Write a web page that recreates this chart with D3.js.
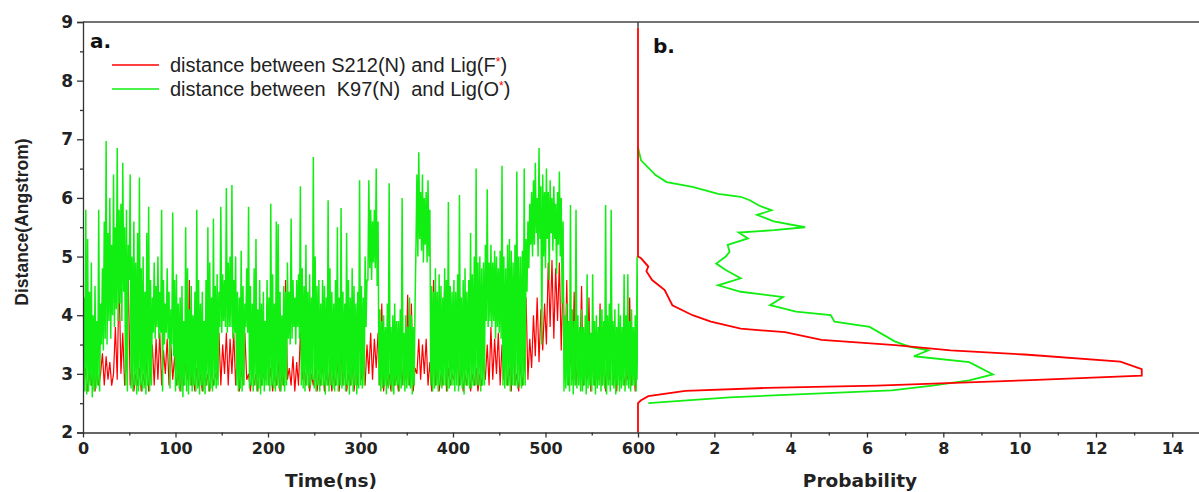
<!DOCTYPE html>
<html>
<head>
<meta charset="utf-8">
<style>
  body { margin: 0; background: #fff; }
  text { font-family: "DejaVu Sans", sans-serif; }
  .tick text { font-family: "DejaVu Sans", sans-serif; font-weight: bold; font-size: 16px; fill: #222; }
  .tick line, .domain { stroke: #333; stroke-width: 1.3; }
</style>
</head>
<body>
<script src="https://d3js.org/d3.v7.min.js"></script>
<script>
  // Panel a: distance over time, panel b: probability of each distance
  const width = 1199;
  const height = 492;

  const greenStep = 1;   // ns
  const redStart = 1;
  const redStep = 2;     // ns

  // K97(N) - Lig(O*) distance, t = 0, 1, ... 600 ns (one row = 20 ns)
  const greenDist = [
    2.8, 4.3, 2.7, 5.8, 2.65, 5.3, 2.7, 4.4, 2.8, 4.9, 2.6, 4.0, 2.7, 4.5, 2.75, 3.9, 2.8, 5.8, 2.7, 4.2,
    3.5, 4.8, 3.4, 5.6, 3.6, 6.97, 3.5, 5.4, 3.9, 6.0, 3.6, 5.2, 4.0, 6.4, 3.8, 5.5, 4.1, 6.85, 3.9, 5.8,
    4.2, 5.9, 3.9, 6.6, 4.4, 5.5, 2.8, 5.8, 2.7, 5.2, 4.6, 6.4, 2.75, 5.0, 2.7, 5.6, 2.8, 4.9, 2.65, 5.4,
    2.7, 6.35, 2.8, 4.8, 2.7, 5.0, 2.75, 4.4, 2.65, 5.4, 2.8, 5.85, 2.7, 4.6, 2.8, 4.3, 3.7, 4.9, 3.6, 4.5,
    3.8, 5.0, 3.6, 4.4, 3.7, 5.8, 2.7, 4.6, 3.5, 4.2, 3.7, 4.8, 3.6, 4.4, 2.75, 4.1, 3.5, 5.75, 3.3, 4.6,
    2.7, 4.7, 2.8, 4.2, 2.75, 4.3, 2.7, 4.5, 2.6, 3.9, 2.8, 5.5, 2.7, 4.8, 2.65, 4.1, 2.8, 4.5, 2.7, 4.0,
    2.8, 4.4, 2.7, 5.8, 2.75, 4.6, 2.65, 4.2, 2.8, 4.4, 2.7, 3.9, 2.65, 4.6, 2.8, 5.5, 2.7, 4.9, 2.75, 4.3,
    2.7, 5.65, 2.8, 4.5, 2.75, 4.7, 2.8, 4.4, 3.8, 5.85, 3.7, 4.7, 3.9, 4.6, 3.8, 6.17, 3.7, 4.9, 3.8, 5.0,
    3.8, 6.22, 3.6, 4.6, 3.7, 5.0, 2.8, 4.4, 2.7, 4.3, 2.75, 5.1, 2.7, 4.5, 2.8, 4.2, 3.8, 4.8, 3.7, 5.85,
    2.75, 4.5, 2.8, 4.2, 2.7, 4.8, 2.8, 5.3, 2.7, 4.1, 2.75, 4.6, 2.65, 4.2, 2.8, 4.4, 2.7, 3.9, 2.8, 4.6,
    2.8, 4.3, 2.7, 5.9, 2.8, 4.7, 2.75, 4.2, 2.7, 5.6, 2.8, 5.55, 2.75, 4.4, 2.7, 4.0, 2.8, 4.5, 2.7, 4.4,
    2.8, 4.9, 3.6, 4.4, 3.5, 5.65, 3.6, 4.6, 3.8, 4.3, 3.5, 4.6, 3.8, 4.7, 3.6, 6.2, 2.8, 4.8, 2.75, 4.5,
    2.7, 5.2, 2.8, 4.4, 2.75, 4.7, 2.8, 4.3, 2.9, 6.7, 2.75, 5.0, 2.7, 4.5, 2.8, 4.6, 2.7, 4.2, 2.8, 4.6,
    2.8, 4.5, 2.65, 4.3, 2.8, 5.96, 2.7, 4.8, 2.8, 4.4, 2.75, 4.2, 2.7, 4.6, 2.8, 5.5, 2.7, 4.3, 2.8, 5.83,
    2.75, 4.4, 2.8, 4.2, 2.7, 5.4, 2.8, 4.6, 2.65, 4.3, 2.8, 4.8, 2.7, 4.5, 2.8, 4.2, 2.65, 4.4, 2.75, 6.3,
    2.8, 4.5, 2.75, 4.3, 2.8, 5.0, 3.8, 4.6, 4.6, 6.3, 4.8, 5.8, 4.6, 5.6, 4.9, 5.8, 4.8, 6.5, 4.5, 5.6,
    2.8, 4.1, 2.7, 3.9, 2.75, 4.0, 2.8, 3.8, 2.65, 4.2, 2.75, 6.25, 2.8, 3.8, 2.7, 4.0, 2.65, 4.2, 2.8, 3.9,
    2.8, 3.9, 2.7, 4.1, 2.75, 6.0, 2.8, 3.7, 2.7, 4.0, 2.75, 3.8, 2.8, 4.3, 2.75, 4.0, 2.65, 3.8, 2.8, 4.2,
    5.2, 6.4, 5.0, 6.78, 5.3, 6.1, 5.1, 6.4, 4.9, 6.0, 5.2, 6.1, 4.9, 6.3, 5.0, 5.8, 2.8, 4.5, 2.7, 4.4,
    2.75, 4.8, 2.8, 4.4, 2.7, 4.7, 2.8, 4.5, 2.75, 4.3, 2.8, 4.8, 2.8, 4.6, 2.7, 5.93, 2.75, 4.5, 2.8, 4.4,
    2.8, 4.6, 2.7, 4.4, 2.8, 4.7, 2.7, 6.05, 2.8, 4.3, 2.75, 4.6, 2.65, 4.8, 2.8, 4.4, 2.8, 4.6, 2.75, 5.4,
    2.75, 4.7, 2.8, 5.0, 2.8, 6.5, 2.8, 4.9, 2.8, 5.0, 2.7, 4.8, 2.8, 4.9, 2.8, 5.2, 3.9, 6.15, 3.8, 4.9,
    3.9, 5.2, 3.8, 4.9, 3.9, 5.1, 3.6, 5.0, 3.8, 4.8, 3.7, 5.1, 3.6, 6.55, 2.8, 5.0, 2.75, 4.8, 2.8, 5.2,
    2.8, 5.3, 2.7, 5.1, 2.8, 4.9, 2.8, 5.2, 2.8, 6.45, 2.75, 5.0, 2.8, 5.0, 2.75, 5.1, 2.8, 6.5, 2.8, 5.3,
    4.4, 5.6, 4.8, 5.9, 5.2, 6.1, 5.0, 6.3, 5.2, 6.6, 5.4, 6.0, 5.0, 6.85, 5.3, 6.2, 3.5, 6.4, 5.0, 6.1,
    4.8, 6.5, 5.3, 6.1, 4.6, 6.3, 5.4, 6.0, 5.1, 6.2, 5.3, 5.9, 4.7, 6.1, 5.2, 6.45, 5.0, 6.0, 4.2, 5.6,
    2.7, 4.0, 2.75, 4.2, 2.8, 3.9, 2.7, 5.88, 2.8, 4.1, 2.65, 3.9, 2.8, 5.8, 2.75, 4.0, 2.8, 3.8, 2.7, 4.1,
    2.7, 3.8, 2.8, 4.0, 2.65, 4.7, 2.75, 3.9, 2.8, 3.7, 2.7, 4.7, 2.8, 3.9, 2.65, 4.0, 2.75, 3.8, 2.8, 4.1,
    2.7, 4.1, 2.8, 3.9, 2.75, 5.88, 2.65, 4.0, 2.8, 4.2, 2.7, 5.8, 2.8, 3.9, 2.75, 4.1, 2.65, 3.8, 2.8, 4.2,
    2.7, 4.0, 2.75, 3.8, 2.8, 4.7, 2.7, 4.0, 2.8, 4.7, 2.75, 3.9, 2.7, 4.1, 2.8, 3.8, 2.8, 4.0, 2.7, 5.0,
    2.9
  ];
  // S212(N) - Lig(F*) distance, t = 1, 3, ... 599 ns (one row = 20 ns)
  const redDist = [
    2.8, 3.1, 2.7, 3.0, 2.8, 3.2, 2.7, 3.1, 2.8, 3.0,
    3.35, 2.8, 3.3, 2.9, 3.2, 2.8, 3.0, 3.8, 2.9, 4.65,
    3.0, 3.7, 2.8, 3.2, 4.6, 2.8, 3.1, 2.7, 3.0, 2.8,
    3.1, 2.7, 3.0, 2.8, 3.2, 2.7, 3.0, 3.5, 2.8, 3.6,
    2.9, 3.7, 2.8, 3.4, 3.0, 3.6, 2.8, 3.5, 2.9, 3.3,
    2.8, 3.0, 2.7, 3.1, 2.8, 3.2, 2.9, 4.6, 2.8, 3.0,
    2.7, 3.1, 2.8, 3.0, 2.7, 3.2, 2.8, 3.0, 2.7, 3.1,
    2.8, 3.0, 2.9, 3.7, 2.8, 3.5, 3.0, 3.7, 2.8, 3.6,
    3.0, 3.7, 2.8, 3.4, 2.7, 3.1, 2.8, 3.7, 2.9, 3.0,
    2.7, 3.1, 2.8, 3.0, 2.7, 3.2, 2.8, 3.0, 2.9, 4.2,
    2.8, 3.1, 2.7, 3.0, 2.8, 3.2, 2.7, 3.0, 2.8, 4.6,
    2.9, 3.1, 2.8, 3.3, 2.7, 3.2, 2.8, 3.7, 2.9, 3.1,
    2.8, 3.4, 2.7, 3.0, 2.8, 3.1, 2.7, 3.0, 2.8, 3.2,
    2.7, 3.0, 2.8, 3.1, 2.7, 3.0, 2.8, 3.2, 2.7, 3.4,
    2.8, 3.1, 2.7, 3.0, 2.8, 3.2, 2.7, 3.1, 2.8, 4.4,
    2.9, 3.2, 2.8, 3.5, 3.0, 3.7, 2.9, 3.6, 3.1, 3.7,
    2.8, 4.2, 2.7, 3.1, 2.8, 3.0, 2.7, 3.2, 2.8, 3.0,
    2.7, 3.1, 2.8, 3.3, 2.9, 4.35, 2.8, 4.2, 2.7, 3.1,
    3.0, 3.6, 2.9, 3.5, 3.0, 3.6, 2.8, 3.2, 2.7, 4.6,
    2.8, 3.1, 2.7, 3.0, 2.8, 4.6, 2.7, 3.1, 2.8, 3.0,
    2.9, 3.2, 3.7, 2.8, 3.1, 2.7, 3.0, 2.8, 3.2, 2.7,
    3.0, 2.8, 3.1, 2.7, 3.0, 2.8, 3.2, 2.9, 3.5, 2.8,
    3.8, 2.9, 3.6, 3.0, 3.7, 2.8, 3.5, 2.9, 3.3, 2.8,
    3.1, 2.7, 3.7, 2.8, 3.0, 2.7, 3.2, 2.8, 3.1, 4.3,
    2.9, 3.6, 3.1, 4.0, 3.3, 4.3, 3.2, 4.1, 3.4, 4.2,
    3.5, 4.9, 3.8, 4.94, 3.6, 4.8, 3.9, 4.9, 3.4, 4.7,
    2.9, 4.6, 2.8, 3.4, 2.9, 4.4, 2.8, 3.2, 3.0, 4.5,
    2.8, 3.1, 2.9, 4.3, 2.7, 3.3, 2.8, 3.5, 2.9, 4.2,
    2.8, 3.2, 2.7, 3.6, 2.9, 4.3, 2.8, 3.1, 2.7, 3.4,
    2.9, 3.3, 2.8, 3.0, 2.9, 4.3, 2.8, 3.2, 2.7, 3.6
  ];

  // panel b: distance (y) vs probability (x)
  const redHistDist = [2.0, 2.5, 2.55, 2.62, 2.71, 2.76, 2.8, 2.89, 2.97, 3.08, 3.21, 3.33, 3.4, 3.49, 3.58, 3.71, 3.77, 3.89, 4.0, 4.17, 4.43, 4.6, 4.75, 4.83, 4.97, 5.0, 8.9];
  const redHistProb = [0, 0, 0.08, 0.27, 1.24, 3.36, 6.26, 10.13, 13.2, 13.2, 12.64, 10.13, 8.19, 6.74, 4.81, 3.85, 2.69, 1.91, 1.43, 0.9, 0.7, 0.37, 0.22, 0.27, 0.08, 0, 0];
  const greenHistDist = [2.5, 2.6, 2.72, 2.8, 2.89, 2.99, 3.2, 3.3, 3.4, 3.46, 3.55, 3.8, 3.89, 4.0, 4.06, 4.17, 4.31, 4.4, 4.51, 4.63, 4.77, 4.88, 5.0, 5.08, 5.2, 5.31, 5.41, 5.45, 5.5, 5.6, 5.71, 5.79, 5.87, 5.96, 6.02, 6.07, 6.19, 6.27, 6.39, 6.64, 6.86];
  const greenHistProb = [0.27, 2.4, 6.65, 7.71, 8.68, 9.3, 8.68, 7.23, 7.61, 7.13, 6.74, 6.07, 5.15, 5.05, 4.14, 3.46, 3.8, 2.69, 2.1, 2.69, 2.3, 2.05, 2.3, 2.4, 2.35, 2.88, 2.64, 3.56, 4.38, 3.56, 3.12, 3.5, 3.17, 2.93, 2.69, 2.1, 1.43, 0.75, 0.46, 0.08, 0];

  const timeTicks = [0, 100, 200, 300, 400, 500, 600];
  const timeMinorTicks = [50, 150, 250, 350, 450, 550];
  const probTicks = [2, 4, 6, 8, 10, 12, 14];
  const probMinorTicks = [1, 3, 5, 7, 9, 11, 13];
  const distTicks = [2, 3, 4, 5, 6, 7, 8, 9];
  const distMinorTicks = [2.5, 3.5, 4.5, 5.5, 6.5, 7.5, 8.5];

  const red = '#ff0000';
  const green = '#11ee11';

  const svg = d3.select('body')
    .append('svg')
    .attr('width', width)
    .attr('height', height);

  const x = d3.scaleLinear().domain([0, 600]).range([83, 638]);
  const xp = d3.scaleLinear().domain([0, 14.7]).range([638, 1199]);
  const y = d3.scaleLinear().domain([2, 9]).range([432.5, 22]);

  svg.append('clipPath').attr('id', 'clipA')
    .append('rect')
    .attr('x', x(0)).attr('y', y(9))
    .attr('width', x(600) - x(0)).attr('height', y(2) - y(9));

  const series = svg.append('g').attr('clip-path', 'url(#clipA)');

  const redLine = d3.line()
    .x((d, i) => x(redStart + i * redStep))
    .y((d) => y(d));
  const greenLine = d3.line()
    .x((d, i) => x(i * greenStep))
    .y((d) => y(d));

  series.append('path')
    .attr('d', redLine(redDist))
    .attr('fill', 'none')
    .attr('stroke', red)
    .attr('stroke-width', 1.2);

  series.append('path')
    .attr('d', greenLine(greenDist))
    .attr('fill', 'none')
    .attr('stroke', green)
    .attr('stroke-width', 1.5);

  // panel b curves
  const histLine = d3.line()
    .x((d) => xp(d[1]))
    .y((d) => y(d[0]));

  svg.append('path')
    .attr('d', histLine(d3.zip(greenHistDist, greenHistProb)))
    .attr('fill', 'none')
    .attr('stroke', green)
    .attr('stroke-width', 1.8);

  svg.append('path')
    .attr('d', histLine(d3.zip(redHistDist, redHistProb)))
    .attr('fill', 'none')
    .attr('stroke', red)
    .attr('stroke-width', 1.8);

  // frame
  svg.append('line')
    .attr('x1', x(0)).attr('x2', width)
    .attr('y1', y(9)).attr('y2', y(9))
    .attr('stroke', '#444').attr('stroke-width', 1.5);
  svg.append('line')
    .attr('x1', x(600)).attr('x2', x(600))
    .attr('y1', y(9)).attr('y2', y(8.9))
    .attr('stroke', '#444').attr('stroke-width', 1.5);

  // axes
  const gy = svg.append('g').attr('transform', `translate(${x(0)},0)`)
    .call(d3.axisLeft(y).tickValues(distTicks).tickSize(6).tickPadding(4).tickFormat(d3.format('d')));
  svg.append('g').attr('transform', `translate(${x(0)},0)`)
    .call(d3.axisLeft(y).tickValues(distMinorTicks).tickSize(3).tickFormat(''))
    .select('.domain').remove();
  gy.selectAll('.tick text').style('font-size', '17px');

  svg.append('g').attr('transform', `translate(0,${y(2)})`)
    .call(d3.axisBottom(x).tickValues(timeTicks).tickSize(5).tickPadding(5).tickSizeOuter(0));
  svg.append('g').attr('transform', `translate(0,${y(2)})`)
    .call(d3.axisBottom(x).tickValues(timeMinorTicks).tickSize(3).tickFormat(''))
    .select('.domain').remove();

  svg.append('g').attr('transform', `translate(0,${y(2)})`)
    .call(d3.axisBottom(xp).tickValues(probTicks).tickSize(5).tickPadding(5).tickSizeOuter(0));
  svg.append('g').attr('transform', `translate(0,${y(2)})`)
    .call(d3.axisBottom(xp).tickValues(probMinorTicks).tickSize(3).tickFormat(''))
    .select('.domain').remove();

  // titles
  svg.append('text')
    .attr('x', 331).attr('y', 487)
    .attr('text-anchor', 'middle')
    .style('font-weight', 'bold').style('font-size', '18.5px').style('fill', '#222')
    .text('Time(ns)');
  svg.append('text')
    .attr('x', 860).attr('y', 487)
    .attr('text-anchor', 'middle')
    .style('font-weight', 'bold').style('font-size', '18.5px').style('fill', '#222')
    .text('Probability');
  svg.append('text')
    .attr('transform', 'translate(28,222) rotate(-90)')
    .attr('text-anchor', 'middle')
    .style('font-family', '"Liberation Sans", Arial, sans-serif')
    .style('font-weight', 'bold').style('font-size', '17.5px').style('fill', '#222')
    .text('Distance(Angstrom)');

  svg.append('text')
    .attr('x', 90).attr('y', 48)
    .style('font-weight', 'bold').style('font-size', '20px').style('fill', '#111')
    .text('a.');
  svg.append('text')
    .attr('x', 653).attr('y', 53)
    .style('font-weight', 'bold').style('font-size', '20px').style('fill', '#111')
    .text('b.');

  // legend
  const legendItems = [
    { label: 'distance between S212(N) and Lig(F', color: red },
    { label: 'distance between  K97(N)  and Lig(O', color: green }
  ];
  const legend = svg.selectAll('.legend')
    .data(legendItems)
    .enter()
    .append('g')
    .attr('class', 'legend')
    .attr('transform', (d, i) => `translate(112,${65 + i * 24})`);
  legend.append('line')
    .attr('x1', 0).attr('x2', 47)
    .attr('stroke', (d) => d.color)
    .attr('stroke-width', 1.5);
  const lt = legend.append('text')
    .attr('x', 58).attr('y', 7)
    .attr('xml:space', 'preserve')
    .style('white-space', 'pre')
    .style('font-family', '"Liberation Sans", Arial, sans-serif')
    .style('font-size', '20px').style('fill', '#222');
  lt.append('tspan').text((d) => d.label);
  lt.append('tspan').attr('dy', -6).style('font-size', '12px').style('fill', red).text('*');
  lt.append('tspan').attr('dy', 6).text(')');
</script>
</body>
</html>
